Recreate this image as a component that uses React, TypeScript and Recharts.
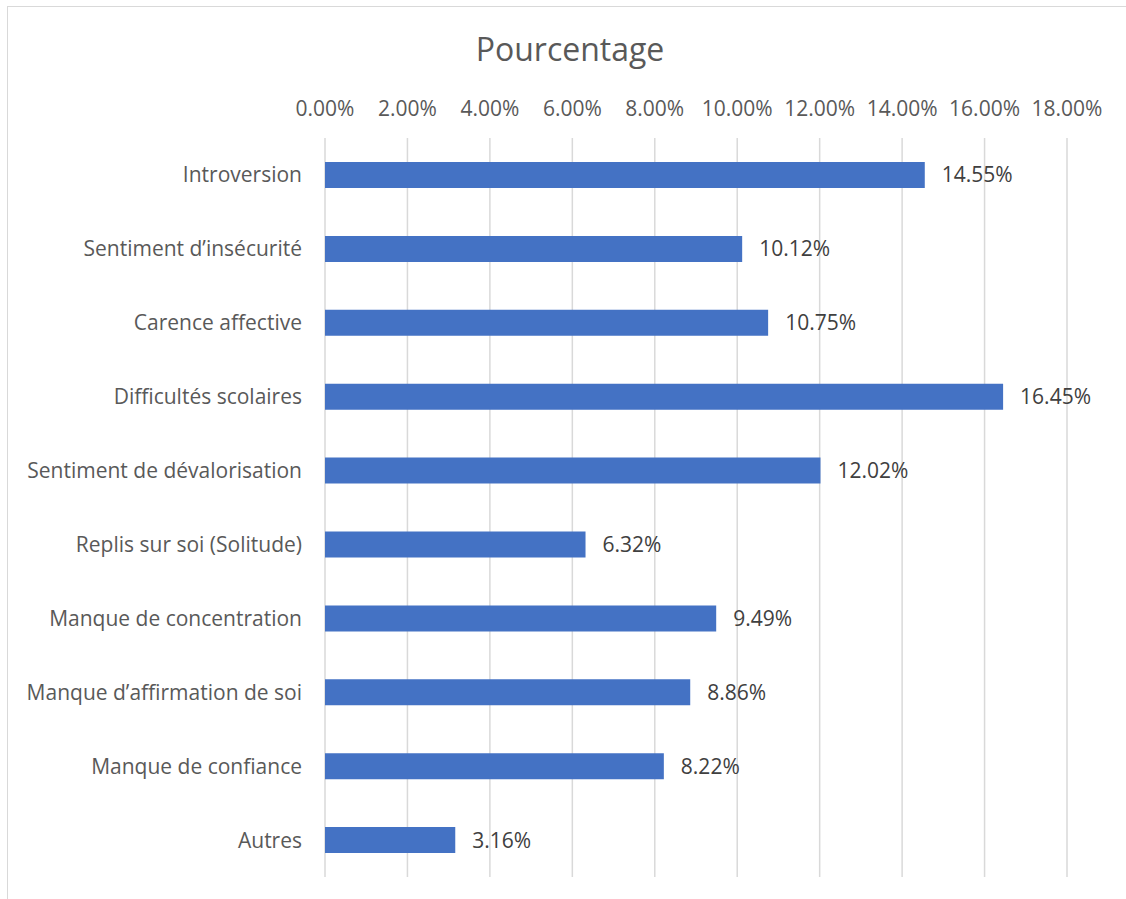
import { BarChart, Bar, XAxis, YAxis, CartesianGrid, LabelList } from "recharts";

// ── Chart data
const CATEGORIES = [
  "Introversion",
  "Sentiment d’insécurité",
  "Carence affective",
  "Difficultés scolaires",
  "Sentiment de dévalorisation",
  "Replis sur soi (Solitude)",
  "Manque de concentration",
  "Manque d’affirmation de soi",
  "Manque de confiance",
  "Autres",
];

const PERCENTAGES = [14.55, 10.12, 10.75, 16.45, 12.02, 6.32, 9.49, 8.86, 8.22, 3.16];

const X_TICKS = [0, 2, 4, 6, 8, 10, 12, 14, 16, 18];

const data = CATEGORIES.map((name, i) => ({ name, value: PERCENTAGES[i] }));

const FONT = "'Open Sans', sans-serif";
const pct = (v: number) => `${Number(v).toFixed(2)}%`;

export default function App() {
  return (
    <div style={{ position: "absolute", left: 0, top: 0, width: 1126, height: 899, background: "#fff", overflow: "hidden", fontFamily: FONT }}>
      {/* chart area frame, only top and left edges are visible in the crop */}
      <div style={{ position: "absolute", left: 7, top: 6, width: 1140, height: 920, border: "1px solid #d9d9d9" }} />
      <div style={{ position: "absolute", left: 0, top: 27, width: 1140, textAlign: "center", fontSize: 32, color: "#595959" }}>
        Pourcentage
      </div>
      <div style={{ position: "absolute", left: 0, top: 0 }}>
        <BarChart
          width={1126}
          height={899}
          data={data}
          layout="vertical"
          margin={{ top: 0, right: 59, bottom: 22, left: 0 }}
        >
          <CartesianGrid horizontal={false} stroke="#d9d9d9" strokeWidth={1.5} />
          <XAxis
            type="number"
            orientation="top"
            domain={[0, 18]}
            ticks={X_TICKS}
            tickFormatter={pct}
            axisLine={false}
            tickLine={false}
            height={138}
            tickMargin={16}
            interval={0}
            tick={{ fontSize: 21, fill: "#595959", fontFamily: FONT }}
          />
          <YAxis
            type="category"
            dataKey="name"
            width={325}
            axisLine={false}
            tickLine={false}
            tickMargin={17}
            interval={0}
            tick={{ fontSize: 21, fill: "#595959", fontFamily: FONT }}
          />
          <Bar dataKey="value" fill="#4472C4" barSize={26} isAnimationActive={false}>
            <LabelList
              dataKey="value"
              position="right"
              offset={17}
              formatter={pct}
              style={{ fontSize: 21, fill: "#404040", fontFamily: FONT }}
            />
          </Bar>
        </BarChart>
      </div>
    </div>
  );
}
